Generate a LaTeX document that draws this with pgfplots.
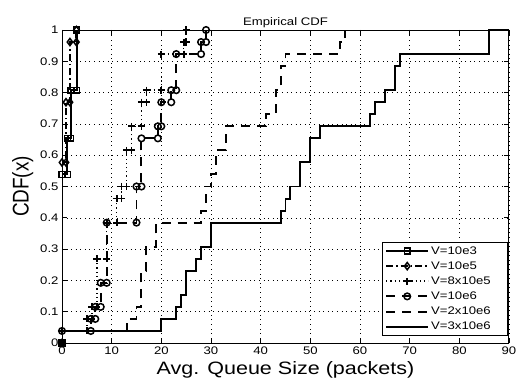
\documentclass[border=0pt]{standalone}
\usepackage{fontspec}
\setmainfont{Liberation Sans}
\usepackage{graphicx}
\usepackage{pgfplots}
\pgfplotsset{compat=1.18}
\newcommand{\sx}[1]{\scalebox{1.2}[1]{#1}}
\newcommand{\legtxt}[1]{\makebox[72bp][l]{\sx{#1}}}
\begin{document}
\begin{tikzpicture}
\useasboundingbox (-62bp,-38bp) rectangle (454bp,343bp);
\begin{axis}[
  at={(0,0)}, anchor=south west,
  width=447bp, height=313bp, scale only axis,
  xmin=0, xmax=90, ymin=0, ymax=1,
  xtick={0,10,20,30,40,50,60,70,80,90},
  xticklabels={\sx{0},\sx{10},\sx{20},\sx{30},\sx{40},\sx{50},\sx{60},\sx{70},\sx{80},\sx{90}},
  ytick={0,0.1,0.2,0.3,0.4,0.5,0.6,0.7,0.8,0.9,1},
  yticklabels={\sx{0},\sx{0.1},\sx{0.2},\sx{0.3},\sx{0.4},\sx{0.5},\sx{0.6},\sx{0.7},\sx{0.8},\sx{0.9},\sx{1}},
  tick label style={font=\fontsize{11}{12}\selectfont},
  axis line style={line width=1pt},
  tick style={line width=0.8pt, black},
  major tick length=5bp,
  tick align=inside,
  grid=major,
  grid style={black, line width=0.5pt, dash pattern=on 0.6pt off 4pt},
  title={\sx{Empirical CDF}},
  title style={font=\fontsize{11}{13}\selectfont, yshift=-7bp},
  xlabel={\sx{Avg. Queue Size (packets)}},
  xlabel style={font=\fontsize{18}{20}\selectfont},
  ylabel={\scalebox{1}[1.2]{CDF(x)}},
  ylabel style={font=\fontsize{19}{21}\selectfont},
  legend style={at={(rel axis cs:0.998,0.022)}, anchor=south east,
    font=\fontsize{11}{12}\selectfont, draw=black, line width=0.8pt,
    row sep=2bp, inner sep=2.5bp},
  legend cell align=left,
  legend image code/.code={\draw[mark repeat=2,mark phase=2,#1] plot coordinates {(0bp,0bp) (21bp,0bp) (42bp,0bp)};},
]
% V=10e3
\addplot[black, line width=2pt, mark=square, mark size=2.8bp, mark options={solid, line width=1.5pt}] coordinates {
(0,0) (0,0.5385) (1.1,0.5385) (1.1,0.6538) (1.8,0.6538) (1.8,0.8077) (3.0,0.8077) (3.0,1)};
\addlegendentry{\legtxt{V=10e3}}
% V=10e5
\addplot[black, line width=2pt, dash pattern=on 7bp off 3bp on 1.5bp off 3bp, mark=diamond, mark size=3.6bp, mark options={solid, line width=1.5pt}] coordinates {
(0,0) (0,0.5769) (0.8,0.5769) (0.8,0.7692) (1.6,0.7692) (1.6,0.9615) (2.9,0.9615) (2.9,1)};
\addlegendentry{\legtxt{V=10e5}}
% V=8x10e5
\addplot[black, line width=1.6pt, dash pattern=on 1.2bp off 3bp, mark=+, mark size=3.5bp, mark options={solid, line width=1.8pt}] coordinates {
(0,0) (0,0.0385) (5,0.0385) (5,0.0769) (6,0.0769) (6,0.1154) (7,0.1154) (7,0.2692) (9,0.2692) (9,0.3846) (11,0.3846) (11,0.4615) (12,0.4615) (12,0.5) (13,0.5) (13,0.6154) (14,0.6154) (14,0.6923) (16,0.6923) (16,0.7692) (17,0.7692) (17,0.8077) (20,0.8077) (20,0.9231) (24.5,0.9231) (24.5,0.9615) (25,0.9615) (25,1)};
\addlegendentry{\legtxt{V=8x10e5}}
% V=10e6
\addplot[black, line width=2pt, dash pattern=on 9bp off 7bp, mark=o, mark size=3.3bp, mark options={solid, line width=1.5pt}] coordinates {
(0,0) (0,0.0385) (5.8,0.0385) (5.8,0.0769) (6.7,0.0769) (6.7,0.1154) (7.8,0.1154) (7.8,0.1923) (9,0.1923) (9,0.3846) (15,0.3846) (15,0.5) (16,0.5) (16,0.6538) (19.3,0.6538) (19.3,0.6923) (20,0.6923) (20,0.7692) (22,0.7692) (22,0.8077) (23,0.8077) (23,0.9231) (28,0.9231) (28,0.9615) (29,0.9615) (29,1)};
\addlegendentry{\legtxt{V=10e6}}
% V=2x10e6
\addplot[black, line width=2pt, dash pattern=on 9bp off 7bp, const plot] coordinates {
(0,0.0385) (13,0.0769) (15,0.1154) (16,0.2308) (17,0.3077) (19,0.3846) (28,0.4231) (29,0.5) (30,0.5385) (31,0.6154) (33,0.6923) (41,0.7308) (43,0.8077) (44,0.8846) (45,0.9231) (56,0.9615) (57,1)};
\addlegendentry{\legtxt{V=2x10e6}}
% V=3x10e6
\addplot[black, line width=2pt, const plot] coordinates {
(0,0.0385) (20,0.0769) (23,0.1154) (24,0.1538) (25,0.2308) (27,0.2692) (28,0.3077) (30,0.3846) (44,0.4231) (45,0.4615) (46,0.5) (48,0.5769) (50,0.6538) (52,0.6923) (62,0.7308) (63,0.7692) (65,0.8077) (67,0.8846) (68,0.9231) (86,1) (90,1)};
\addlegendentry{\legtxt{V=3x10e6}}
\end{axis}
\end{tikzpicture}
\end{document}
